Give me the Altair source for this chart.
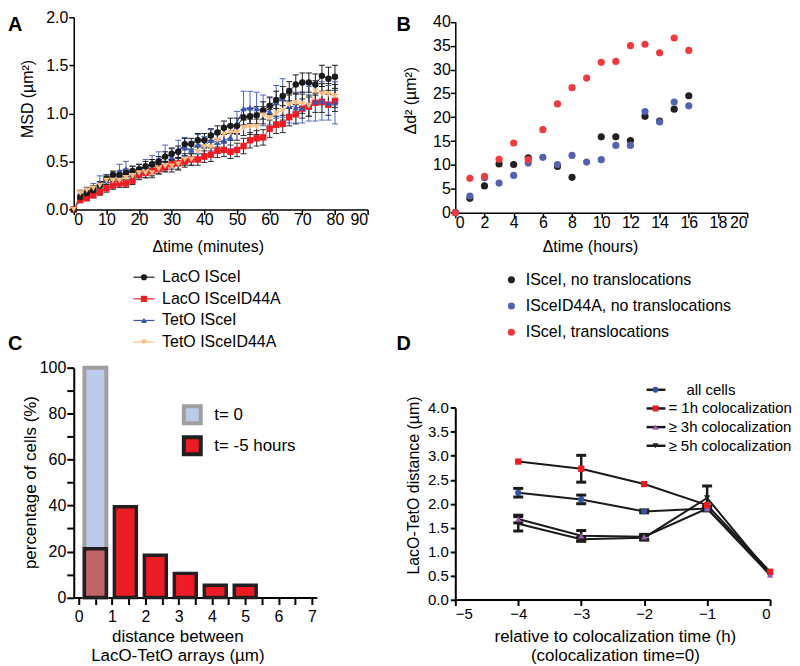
import altair as alt
import pandas as pd

FONT = "Liberation Sans"
panel_letters = ["A", "B", "C", "D"]

# ---------------- Panel A : MSD ----------------
a_minutes = [0, 2, 4, 6, 8, 10, 12, 14, 16, 18, 20, 22, 24, 26, 28, 30, 32, 34, 36, 38, 40,
             42, 44, 46, 48, 50, 52, 54, 56, 58, 60, 62, 64, 66, 68, 70, 72, 74, 76, 78, 80]
a_names = ["LacO ISceI", "LacO ISceID44A", "TetO ISceI", "TetO ISceID44A"]
a_colors = ["#1a1a1a", "#ed1c24", "#3b57ad", "#fbbd7d"]
a_err_colors = ["#1a1a1a", "#2b2b2b", "#4a66c0", "#2b2b2b"]
a_shapes = ["circle", "square", "triangle-up", "triangle-down"]
a_draw_order = ["LacO ISceID44A", "TetO ISceI", "LacO ISceI", "TetO ISceID44A"]
a_xtitle = "\u0394time (minutes)"
a_ytitle = "MSD (\u00b5m\u00b2)"

a_laco_isce = [0, .13, .17, .20, .25, .32, .36, .36, .38, .40, .42, .45, .47, .50, .55, .58, .60, .68, .68, .72,
               .72, .77, .80, .85, .87, .87, .96, .97, .98, 1.03, 1.08, 1.14, 1.18, 1.23, 1.30, 1.32, 1.32, 1.30,
               1.39, 1.36, 1.38]
a_laco_d44a = [0, .10, .12, .15, .18, .22, .25, .27, .27, .30, .36, .38, .40, .42, .44, .47, .48, .50, .52, .52,
               .55, .57, .61, .62, .60, .62, .66, .72, .74, .75, .84, .88, .89, .96, .99, 1.05, 1.07, 1.11,
               1.12, 1.09, 1.13]
a_teto_isce = [0, .15, .18, .22, .28, .30, .33, .40, .42, .38, .40, .45, .48, .52, .57, .55, .63, .65, .62, .68,
               .66, .72, .70, .72, .75, .90, 1.05, 1.06, 1.05, 1.03, 1.02, 1.12, 1.16, 1.08, 1.06, 1.06, 1.10,
               1.12, 1.13, 1.11, 1.11]
a_teto_d44a = [0, .17, .20, .22, .25, .30, .30, .30, .33, .35, .38, .38, .38, .42, .45, .45, .47, .52, .52, .60,
               .65, .65, .72, .78, .80, .80, .85, .86, .86, .98, .95, 1.00, 1.03, 1.09, 1.11, 1.10, 1.08, 1.23,
               1.20, 1.20, 1.18]

a_laco_isce_err = [0, .03, .03, .03, .04, .04, .04, .04, .04, .05, .05, .05, .05, .05, .05, .06, .06, .06, .06,
                   .07, .07, .07, .07, .07, .08, .08, .08, .08, .09, .09, .09, .09, .10, .10, .10, .10, .10,
                   .11, .11, .12, .12]
a_laco_d44a_err = [0, .03, .03, .03, .03, .04, .04, .04, .04, .04, .05, .05, .05, .05, .05, .05, .06, .06, .06,
                   .06, .06, .07, .07, .07, .07, .07, .08, .08, .08, .08, .09, .09, .09, .09, .10, .10, .10,
                   .10, .11, .11, .11]
a_teto_isce_err = [0, .04, .05, .05, .07, .06, .06, .07, .08, .07, .07, .07, .08, .08, .10, .08, .09, .10, .09,
                   .10, .10, .11, .11, .12, .12, .12, .18, .17, .17, .16, .14, .17, .20, .18, .16, .16, .18,
                   .20, .20, .18, .22]
a_teto_d44a_err = [0, .03, .03, .03, .04, .04, .04, .04, .04, .05, .05, .05, .05, .05, .05, .06, .06, .06, .06,
                   .06, .07, .07, .07, .07, .08, .08, .08, .08, .08, .09, .09, .09, .10, .10, .10, .10, .11,
                   .11, .11, .11, .12]

# ---------------- Panel B : delta d^2 ----------------
b_hours = [0, 1, 2, 3, 4, 5, 6, 7, 8, 9, 10, 11, 12, 13, 14, 15, 16]
b_names = ["ISceI, no translocations", "ISceID44A, no translocations", "ISceI, translocations"]
b_colors = ["#231f20", "#5562b0", "#ef3a3f"]
b_xtitle = "\u0394time (hours)"
b_ytitle = "\u0394d\u00b2 (\u00b5m\u00b2)"
b_isce_notrans = [0, 3.0, 5.6, 10.2, 10.1, 11.5, None, 9.7, 7.4, None, 15.9, 15.9, 15.1, 20.2, 19.2, 21.7, 24.5]
b_d44a_notrans = [0, 3.5, 7.3, 6.2, 7.8, 10.4, 11.6, 10.1, 12.0, 10.6, 11.1, 14.1, 14.1, 21.2, 19.0, 23.2, 22.4]
b_isce_trans = [0, 7.2, 7.6, 11.2, 14.6, 11.1, 17.4, 22.8, 26.2, 28.2, 31.5, 31.7, 35.0, 35.3, 33.5, 36.6, 34.0]

# ---------------- Panel C : histogram ----------------
c_labels = ["t= 0", "t= -5 hours"]
c_fill = ["#bccbea", "#ed1c24"]
c_stroke = ["#a0a0a0", "#231f20"]
c_xtitle = ["distance between", "LacO-TetO arrays (\u00b5m)"]
c_ytitle = "percentage of cells (%)"
c_t0_bins = [0.5]
c_t0_pct = [100]
c_t5_bins = [0.5, 1.4, 2.3, 3.2, 4.1, 5.0]
c_t5_pct = [21.2, 39.5, 18.4, 10.5, 5.3, 5.3]

# ---------------- Panel D : distance ----------------
d_time = [-4, -3, -2, -1, 0]
d_names = ["all cells", "= 1h colocalization", "\u2265 3h colocalization", "\u2265 5h colocalization"]
d_colors = ["#3853a4", "#ed1c24", "#9c5bb0", "#231f20"]
d_shapes = ["circle", "square", "triangle-up", "triangle-down"]
d_xtitle = ["relative to colocalization time (h)", "(colocalization time=0)"]
d_ytitle = "LacO-TetO distance (\u00b5m)"
d_draw_order = [0, 3, 2, 1]
d_all = [2.23, 2.09, 1.84, 1.90, 0.55]
d_all_err = [0.09, 0.09, 0.03, 0.03, 0.0]
d_1h = [2.88, 2.73, 2.41, 1.97, 0.58]
d_1h_err = [0.0, 0.28, 0.0, 0.0, 0.0]
d_3h = [1.68, 1.33, 1.31, 1.90, 0.51]
d_3h_err = [0.08, 0.11, 0.05, 0.05, 0.0]
d_5h = [1.58, 1.26, 1.29, 2.12, 0.53]
d_5h_err = [0.15, 0.04, 0.05, 0.25, 0.0]


def axis_common(**kw):
    base = dict(grid=False, labelFont=FONT, labelColor="black", domainColor="black", tickColor="black",
                labelOverlap=False, title=None)
    base.update(kw)
    return alt.Axis(**base)


def label(txt, x, y, size, angle=0, align="center"):
    return alt.Chart(pd.DataFrame({"t": [txt]})).mark_text(
        align=align, baseline="middle", fontSize=size, font=FONT, color="black", angle=angle
    ).encode(x=alt.value(x), y=alt.value(y), text="t:N")


def letter(txt, x, y):
    return alt.Chart(pd.DataFrame({"t": [txt]})).mark_text(
        align="left", baseline="middle", fontSize=20, fontWeight="bold", font=FONT, color="black"
    ).encode(x=alt.value(x), y=alt.value(y), text="t:N")


# ======== Panel A ========
a_series_vals = dict(zip(a_names, [a_laco_isce, a_laco_d44a, a_teto_isce, a_teto_d44a]))
a_series_err = dict(zip(a_names, [a_laco_isce_err, a_laco_d44a_err, a_teto_isce_err, a_teto_d44a_err]))
rows = []
for nm in a_draw_order:
    for m, v, e in zip(a_minutes, a_series_vals[nm], a_series_err[nm]):
        rows.append({"series": nm, "minute": m, "msd": v, "sem": e})
a_df = pd.DataFrame(rows)

axA_x = axis_common(values=list(range(0, 91, 10)), format="d", labelFontSize=16,
                    tickSize=5, tickWidth=1.5, domainWidth=1.5, labelPadding=-3)
axA_y = axis_common(values=[0, 0.5, 1.0, 1.5, 2.0], format=".1f", labelFontSize=16,
                    tickSize=5, tickWidth=1.5, domainWidth=1.5, labelPadding=1)
scxA = alt.Scale(domain=[0, 90], nice=False)
scyA = alt.Scale(domain=[0, 2], nice=False)
xA = alt.X("minute:Q", scale=scxA, axis=axA_x)
yA = alt.Y("msd:Q", scale=scyA, axis=axA_y)
colA = alt.Color("series:N", scale=alt.Scale(domain=a_names, range=a_colors), legend=None)
shpA = alt.Shape("series:N", scale=alt.Scale(domain=a_names, range=a_shapes), legend=None)
errA = alt.Stroke("series:N", scale=alt.Scale(domain=a_names, range=a_err_colors), legend=None)

baseA = alt.Chart(a_df)
linesA = baseA.mark_line(strokeWidth=1).encode(x=xA, y=yA, color=colA, detail="series:N")
errbase = baseA.transform_calculate(lo="datum.msd - datum.sem", hi="datum.msd + datum.sem").transform_filter(
    "datum.sem > 0")
errA_r = errbase.mark_rule(strokeWidth=1).encode(
    x=xA, y=alt.Y("lo:Q", scale=scyA, axis=axA_y), y2="hi:Q", stroke=errA)
capA_hi = errbase.mark_rule(strokeWidth=1, xOffset=-3, x2Offset=3).encode(
    x=xA, x2="minute:Q", y=alt.Y("hi:Q", scale=scyA, axis=axA_y), stroke=errA)
capA_lo = errbase.mark_rule(strokeWidth=1, xOffset=-3, x2Offset=3).encode(
    x=xA, x2="minute:Q", y=alt.Y("lo:Q", scale=scyA, axis=axA_y), stroke=errA)
ptsA = baseA.mark_point(filled=True, size=42, opacity=1).encode(x=xA, y=yA, color=colA, shape=shpA)

legA_df = pd.DataFrame({"series": a_names})
legA_y = alt.Y("series:N", scale=alt.Scale(type="point", domain=a_names, range=[261.0, 326.1], padding=0),
               axis=None)
legA_line = alt.Chart(legA_df).mark_rule(strokeWidth=1.2).encode(
    x=alt.value(60), x2=alt.value(81), y=legA_y, color=colA)
legA_pt = alt.Chart(legA_df).mark_point(filled=True, size=38, opacity=1).encode(
    x=alt.value(70.5), y=legA_y, color=colA, shape=shpA)
legA_txt = alt.Chart(legA_df).mark_text(align="left", baseline="middle", fontSize=16, font=FONT,
                                         color="black").encode(x=alt.value(88.7), y=legA_y, text="series:N")

panelA = alt.layer(
    alt.layer(linesA, errA_r, capA_hi, capA_lo, ptsA),
    alt.layer(legA_line, legA_pt, legA_txt, letter(panel_letters[0], -66, 7.4),
              label(a_xtitle, 135, 230.7, 16), label(a_ytitle, -46, 82, 16, angle=270)),
).resolve_scale(y="independent").properties(width=295, height=193)

# ======== Panel B ========
rows = []
for nm, vals in zip(b_names, [b_isce_notrans, b_d44a_notrans, b_isce_trans]):
    for h, v in zip(b_hours, vals):
        if v is not None:
            rows.append({"series": nm, "hour": h, "d2": v})
b_df = pd.DataFrame(rows)

axB_x = axis_common(values=list(range(0, 21, 2)), format="d", labelFontSize=16,
                    tickSize=5, tickWidth=1.5, domainWidth=1.5, labelPadding=-3)
axB_y = axis_common(values=list(range(0, 41, 5)), format="d", labelFontSize=16,
                    tickSize=5, tickWidth=1.5, domainWidth=1.5, labelPadding=0)
colB = alt.Color("series:N", scale=alt.Scale(domain=b_names, range=b_colors), legend=None)
ptsB = alt.Chart(b_df).mark_circle(size=52, opacity=1).encode(
    x=alt.X("hour:Q", scale=alt.Scale(domain=[0, 20], nice=False), axis=axB_x),
    y=alt.Y("d2:Q", scale=alt.Scale(domain=[0, 40], nice=False, range=[196.2, 4.6]), axis=axB_y),
    color=colB)
legB_df = pd.DataFrame({"series": b_names})
legB_y = alt.Y("series:N", scale=alt.Scale(type="point", domain=b_names, range=[263.6, 316.2], padding=0),
               axis=None)
legB_pt = alt.Chart(legB_df).mark_circle(size=52, opacity=1).encode(x=alt.value(56.3), y=legB_y, color=colB)
legB_txt = alt.Chart(legB_df).mark_text(align="left", baseline="middle", fontSize=16, font=FONT,
                                         color="black").encode(x=alt.value(70.7), y=legB_y, text="series:N")
panelB = alt.layer(
    alt.layer(ptsB),
    alt.layer(legB_pt, legB_txt, letter(panel_letters[1], -59, 7.4),
              label(b_xtitle, 135.7, 230.7, 16), label(b_ytitle, -44, 83.8, 16, angle=270)),
).resolve_scale(y="independent").properties(width=293, height=196.2)

# ======== Panel C ========
c_t0_df = pd.DataFrame({"dist": c_t0_bins, "pct": c_t0_pct})
c_t5_df = pd.DataFrame({"dist": c_t5_bins, "pct": c_t5_pct})
axC_x = axis_common(values=[i * 0.5 for i in range(15)], labelExpr="datum.value % 1 == 0 ? datum.label : ''",
                    format="~g", labelFontSize=16, tickSize=7, tickWidth=2, domainWidth=2, labelPadding=4)
axC_y = axis_common(values=list(range(0, 101, 10)), labelExpr="datum.value % 20 == 0 ? datum.label : ''",
                    format="d", labelFontSize=16, tickSize=7, tickWidth=2, domainWidth=2, labelPadding=1)
xC = alt.X("dist:Q", scale=alt.Scale(domain=[0, 7], nice=False), axis=axC_x)
yC = alt.Y("pct:Q", scale=alt.Scale(domain=[0, 100], nice=False), axis=axC_y)
barsT0 = alt.Chart(c_t0_df).mark_bar(size=22, fill=c_fill[0], stroke=c_stroke[0], strokeWidth=4).encode(
    x=xC, y=yC)
barsT5 = alt.Chart(c_t5_df).mark_bar(size=22, stroke=c_stroke[1], strokeWidth=3.5).encode(
    x=xC, y=yC, fill=alt.condition("datum.dist < 1", alt.value("#c06467"), alt.value(c_fill[1])))
legC_df = pd.DataFrame({"lab": c_labels})
legC_y = alt.Y("lab:N", scale=alt.Scale(type="point", domain=c_labels, range=[47.3, 78.4], padding=0),
               axis=None)
legC_sq = alt.Chart(legC_df).mark_square(size=289, opacity=1, strokeWidth=4).encode(
    x=alt.value(119), y=legC_y,
    fill=alt.Fill("lab:N", scale=alt.Scale(domain=c_labels, range=c_fill), legend=None),
    stroke=alt.Stroke("lab:N", scale=alt.Scale(domain=c_labels, range=c_stroke), legend=None))
legC_txt = alt.Chart(legC_df).mark_text(align="left", baseline="middle", fontSize=17, font=FONT,
                                         color="black").encode(x=alt.value(141), y=legC_y, text="lab:N")
panelC = alt.layer(
    alt.layer(barsT0, barsT5),
    alt.layer(legC_sq, legC_txt, letter(panel_letters[2], -66, -24.2),
              label(c_xtitle[0], 104.5, 270.2, 17), label(c_xtitle[1], 104.5, 289.6, 17),
              label(c_ytitle, -43, 115.3, 17, angle=270)),
).resolve_scale(y="independent").properties(width=244, height=230.7)

# ======== Panel D ========
d_vals = [d_all, d_1h, d_3h, d_5h]
d_errs = [d_all_err, d_1h_err, d_3h_err, d_5h_err]
rows = []
for i in d_draw_order:
    for t, v, e in zip(d_time, d_vals[i], d_errs[i]):
        rows.append({"series": d_names[i], "t": t, "dist": v, "err": e})
d_df = pd.DataFrame(rows)

axD_x = axis_common(values=[-5, -4, -3, -2, -1, 0], format="d", labelFontSize=15,
                    tickSize=6, tickWidth=2, domainWidth=2, labelPadding=1)
axD_y = axis_common(values=[i * 0.5 for i in range(9)], format=".1f", labelFontSize=15,
                    tickSize=5, tickWidth=2, domainWidth=2, labelPadding=2)
scxD = alt.Scale(domain=[-5, 0], nice=False)
scyD = alt.Scale(domain=[0, 4], nice=False, range=[232.7, 40.4])
xD = alt.X("t:Q", scale=scxD, axis=axD_x)
yD = alt.Y("dist:Q", scale=scyD, axis=axD_y)
colD = alt.Color("series:N", scale=alt.Scale(domain=d_names, range=d_colors), legend=None)
shpD = alt.Shape("series:N", scale=alt.Scale(domain=d_names, range=d_shapes), legend=None)
baseD = alt.Chart(d_df)
linesD = baseD.mark_line(color="#1a1a1a", strokeWidth=2).encode(x=xD, y=yD, detail="series:N")
errD = baseD.transform_filter("datum.err > 0").transform_calculate(
    lo="datum.dist - datum.err", hi="datum.dist + datum.err")
errD_r = errD.mark_rule(color="#1a1a1a", strokeWidth=2.5).encode(
    x=xD, y=alt.Y("lo:Q", scale=scyD, axis=axD_y), y2="hi:Q")
capD_hi = errD.mark_rule(color="#1a1a1a", strokeWidth=3, xOffset=-5, x2Offset=5).encode(
    x=xD, x2="t:Q", y=alt.Y("hi:Q", scale=scyD, axis=axD_y))
capD_lo = errD.mark_rule(color="#1a1a1a", strokeWidth=3, xOffset=-5, x2Offset=5).encode(
    x=xD, x2="t:Q", y=alt.Y("lo:Q", scale=scyD, axis=axD_y))
ptsD = baseD.mark_point(filled=True, size=40, opacity=1).encode(x=xD, y=yD, color=colD, shape=shpD)
legD_df = pd.DataFrame({"series": d_names})
legD_y = alt.Y("series:N", scale=alt.Scale(type="point", domain=d_names, range=[22.2, 78.4], padding=0),
               axis=None)
legD_line = alt.Chart(legD_df).mark_rule(color="#1a1a1a", strokeWidth=2.5).encode(
    x=alt.value(192), x2=alt.value(211), y=legD_y)
legD_pt = alt.Chart(legD_df).mark_point(filled=True, size=36, opacity=1).encode(
    x=alt.value(201), y=legD_y, color=colD, shape=shpD)
legD_txt_first = alt.Chart(legD_df).transform_filter(alt.datum.series == d_names[0]).mark_text(
    align="left", baseline="middle", fontSize=15, font=FONT, color="black").encode(
    x=alt.value(232), y=legD_y, text="series:N")
legD_txt_rest = alt.Chart(legD_df).transform_filter(alt.datum.series != d_names[0]).mark_text(
    align="left", baseline="middle", fontSize=15, font=FONT, color="black").encode(
    x=alt.value(214), y=legD_y, text="series:N")
panelD = alt.layer(
    alt.layer(linesD, errD_r, capD_hi, capD_lo, ptsD),
    alt.layer(legD_line, legD_pt, legD_txt_first, legD_txt_rest, letter(panel_letters[3], -59, -24.2),
              label(d_xtitle[0], 160.7, 270.5, 17), label(d_xtitle[1], 160.7, 289.9, 17),
              label(d_ytitle, -41, 118.3, 16, angle=270)),
).resolve_scale(y="independent").properties(width=316, height=232.7)

chart = alt.concat(panelA, panelB, panelC, panelD, columns=2, bounds="flush",
                   spacing={"row": 154.8, "column": 88}).resolve_scale(
    color="independent", shape="independent", stroke="independent", fill="independent"
).properties(
    padding={"left": 0, "top": 0, "right": 0, "bottom": 0}
).configure_view(stroke=None)

chart.save("out.html", embed_options={"renderer": "svg", "actions": False})
